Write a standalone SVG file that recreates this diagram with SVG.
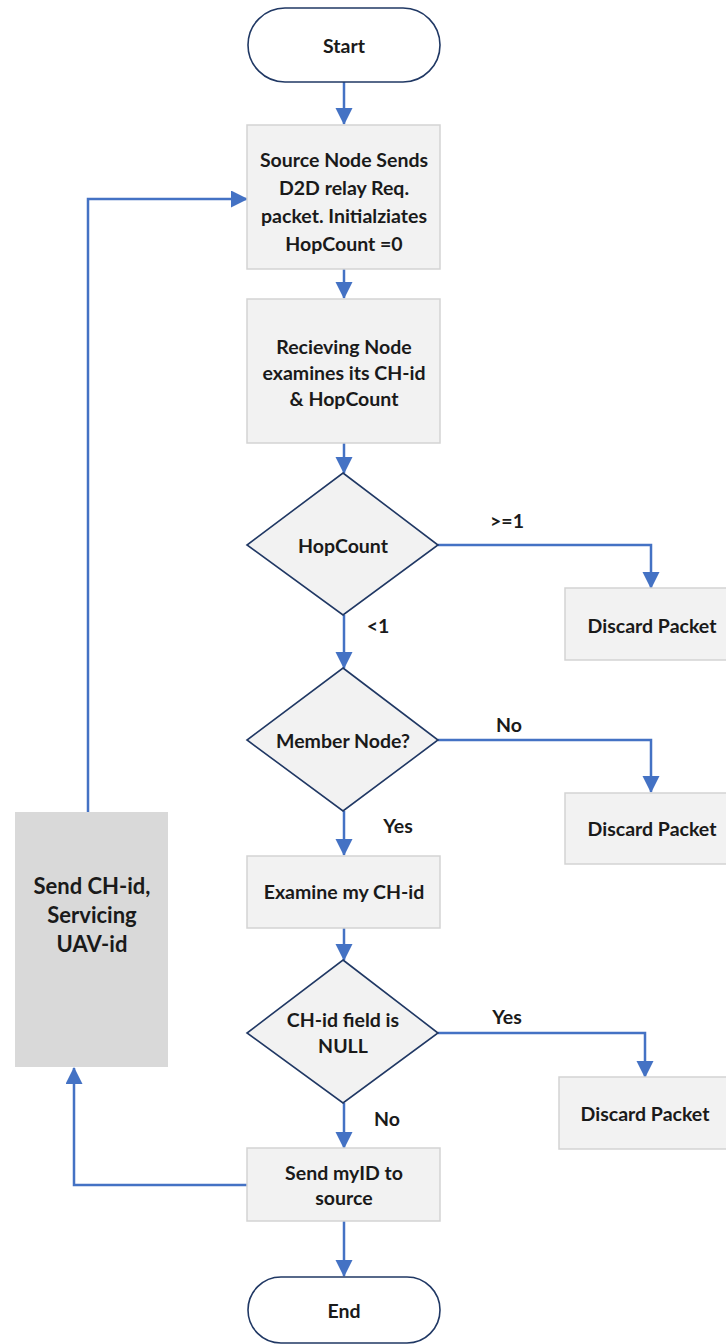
<svg xmlns="http://www.w3.org/2000/svg" width="726" height="1344" viewBox="0 0 726 1344">
<style>
.t{font-family:Lato,"Liberation Sans",sans-serif;font-weight:bold;font-size:19.5px;fill:#1a1a1a;text-anchor:middle;dominant-baseline:central}
.big{font-size:22px}
.box{fill:#f2f2f2;stroke:#d3d3d3;stroke-width:1.5}
.dia{fill:#f2f2f2;stroke:#203864;stroke-width:1.6}
.term{fill:#ffffff;stroke:#203864;stroke-width:1.6}
.side{fill:#d9d9d9}
.c{fill:none;stroke:#4472c4;stroke-width:2.5;marker-end:url(#ah)}
</style>
<defs>
<marker id="ah" markerUnits="userSpaceOnUse" markerWidth="18" markerHeight="18" refX="16" refY="8.5" orient="auto">
<path d="M0,0 L17,8.5 L0,17 z" fill="#4472c4"/>
</marker>
</defs>
<rect width="726" height="1344" fill="#ffffff"/>
<g id="connectors">
<path class="c" d="M344,82 V124"/>
<path class="c" d="M344,269 V298"/>
<path class="c" d="M344,443 V473"/>
<path class="c" d="M438,545 H651 V588"/>
<path class="c" d="M344,615 V668"/>
<path class="c" d="M438,740 H651 V792"/>
<path class="c" d="M344,811 V855"/>
<path class="c" d="M344,928 V960"/>
<path class="c" d="M438,1033 H645 V1077"/>
<path class="c" d="M344,1103 V1148"/>
<path class="c" d="M247,1185 H74 V1068"/>
<path class="c" d="M88,812 V199 H247"/>
<path class="c" d="M344,1221 V1276"/>
</g>
<g id="labels">
<text class="t" x="507" y="520">&gt;=1</text>
<text class="t" x="378" y="625">&lt;1</text>
<text class="t" x="509" y="724">No</text>
<text class="t" x="398" y="825">Yes</text>
<text class="t" x="507" y="1016">Yes</text>
<text class="t" x="387" y="1118">No</text>
</g>
<g id="start">
<rect class="term" x="248" y="8" width="192" height="74" rx="37"/>
<text class="t" x="344" y="45">Start</text>
</g>
<g id="source">
<rect class="box" x="247" y="125" width="193" height="144"/>
<text class="t" x="344" y="159">Source Node Sends</text>
<text class="t" x="344" y="187">D2D relay Req.</text>
<text class="t" x="344" y="215">packet. Initialziates</text>
<text class="t" x="344" y="243">HopCount =0</text>
</g>
<g id="receive">
<rect class="box" x="247" y="299" width="193" height="144"/>
<text class="t" x="344" y="346">Recieving Node</text>
<text class="t" x="344" y="372">examines its CH-id</text>
<text class="t" x="344" y="398">&amp; HopCount</text>
</g>
<g id="hopcount">
<polygon class="dia" points="343,473 438,545 343,615 247,545"/>
<text class="t" x="343" y="545">HopCount</text>
</g>
<g id="discard1">
<rect class="box" x="565" y="588" width="170" height="72"/>
<text class="t" x="652" y="625">Discard Packet</text>
</g>
<g id="member">
<polygon class="dia" points="343,668 438,740 343,811 247,740"/>
<text class="t" x="343" y="740">Member Node?</text>
</g>
<g id="discard2">
<rect class="box" x="565" y="793" width="170" height="71"/>
<text class="t" x="652" y="828">Discard Packet</text>
</g>
<g id="examine">
<rect class="box" x="247" y="856" width="193" height="72"/>
<text class="t" x="344" y="891">Examine my CH-id</text>
</g>
<g id="chnull">
<polygon class="dia" points="343,960 438,1033 343,1103 247,1033"/>
<text class="t" x="343" y="1019">CH-id field is</text>
<text class="t" x="343" y="1045">NULL</text>
</g>
<g id="discard3">
<rect class="box" x="559" y="1077" width="176" height="72"/>
<text class="t" x="645" y="1113">Discard Packet</text>
</g>
<g id="sendmyid">
<rect class="box" x="247" y="1148" width="193" height="73"/>
<text class="t" x="344" y="1172">Send myID to</text>
<text class="t" x="344" y="1197">source</text>
</g>
<g id="sendch">
<rect class="side" x="15" y="812" width="153" height="255"/>
<text class="t big" x="92" y="885">Send CH-id,</text>
<text class="t big" x="92" y="914">Servicing</text>
<text class="t big" x="92" y="943">UAV-id</text>
</g>
<g id="end">
<rect class="term" x="248" y="1277" width="192" height="66" rx="33"/>
<text class="t" x="344" y="1310">End</text>
</g>
</svg>
